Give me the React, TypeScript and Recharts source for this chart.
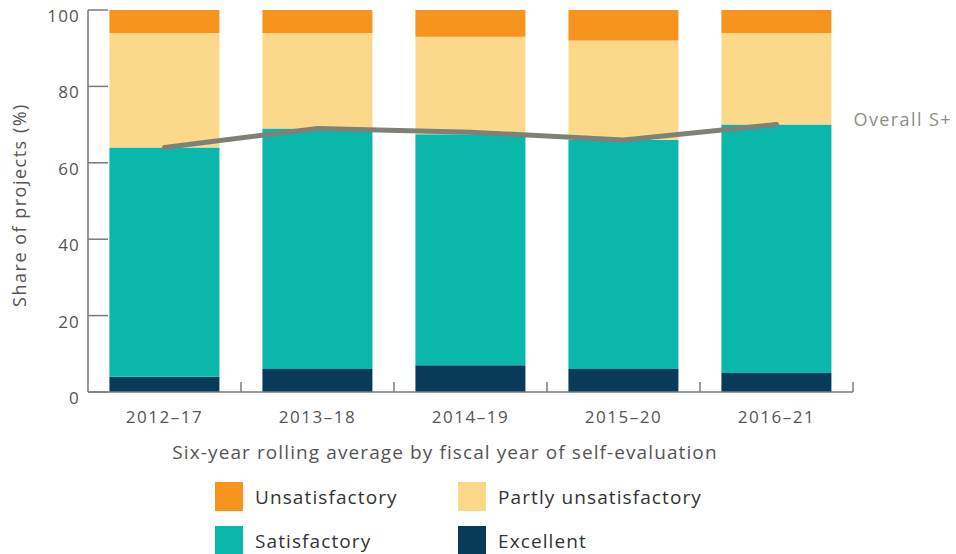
import React from 'react';
import { ComposedChart, Bar, Line, XAxis, YAxis, Legend, Label } from 'recharts';

const categories = ['2012–17', '2013–18', '2014–19', '2015–20', '2016–21'];
const excellent = [4, 6, 7, 6, 5];
const satisfactory = [60, 63, 60.5, 60, 65];
const partlyUnsatisfactory = [30, 25, 25.5, 26, 24];
const unsatisfactory = [6, 6, 7, 8, 6];
const overallSPlus = [64, 69, 68, 66, 70];
const yTicks = [0, 20, 40, 60, 80, 100];

const legendItems = [
  { name: 'Unsatisfactory', color: '#F7941D' },
  { name: 'Partly unsatisfactory', color: '#FCD98A' },
  { name: 'Satisfactory', color: '#09B7AB' },
  { name: 'Excellent', color: '#0A3A5A' },
];

const data = categories.map((c, i) => ({
  category: c,
  excellent: excellent[i],
  satisfactory: satisfactory[i],
  partly: partlyUnsatisfactory[i],
  unsat: unsatisfactory[i],
  overall: overallSPlus[i],
}));

const FONT = '"Open Sans", Lato, sans-serif';
const AXIS = '#7a7a7a';

const YTick = (props: any) => {
  const { x, y, payload } = props;
  return (
    <g>
      <line x1={x + 8} x2={x + 28} y1={y} y2={y} stroke={AXIS} strokeWidth={1.5} />
      <text x={x} y={y + 12} textAnchor="end" fill="#555" fontSize={17} fontFamily={FONT} letterSpacing={1.2}>
        {payload.value}
      </text>
    </g>
  );
};

const XTick = (props: any) => {
  const { x, y, payload } = props;
  const off = payload.offset ?? 76.5;
  return (
    <g>
      <line x1={x + off} x2={x + off} y1={y} y2={y - 10} stroke={AXIS} strokeWidth={1.5} />
      <text x={x} y={y + 31} textAnchor="middle" fill="#555" fontSize={17} fontFamily={FONT} letterSpacing={1.5}>
        {payload.value}
      </text>
    </g>
  );
};

const LineEndLabel = (props: any) => {
  const { x, y, index } = props;
  if (index !== categories.length - 1) return null;
  return (
    <text x={x + 77} y={y + 1} fill="#8c8f87" fontSize={18} fontFamily={FONT} letterSpacing={1.4}>
      Overall S+
    </text>
  );
};

const LegendContent = () => (
  <div
    style={{
      display: 'grid',
      gridTemplateColumns: '243px 260px',
      rowGap: 15,
      fontFamily: FONT,
      fontSize: 19,
      letterSpacing: 1.1,
      color: '#333',
    }}
  >
    {legendItems.map((it) => (
      <div key={it.name} style={{ display: 'flex', alignItems: 'center', height: 29 }}>
        <span style={{ display: 'inline-block', width: 28, height: 29, background: it.color, marginRight: 12 }} />
        <span>{it.name}</span>
      </div>
    ))}
  </div>
);

export default function App() {
  return (
    <div style={{ position: 'absolute', left: 0, top: 0, width: 956, height: 554, background: '#fff' }}>
      <ComposedChart
        width={956}
        height={554}
        data={data}
        margin={{ top: 10, right: 103, left: 0, bottom: 92 }}
        barCategoryGap="14%"
      >
        <YAxis
          type="number"
          domain={[0, 100]}
          ticks={yTicks}
          width={88}
          tickSize={0}
          tickMargin={8}
          tick={<YTick />}
          tickLine={false}
          axisLine={{ stroke: AXIS, strokeWidth: 1.5 }}
          interval={0}
        >
          <Label
            content={(p: any) => {
              const vb = p.viewBox;
              const cx = 21;
              const cy = vb.y + vb.height / 2 + 4;
              return (
                <text
                  x={cx}
                  y={cy}
                  transform={`rotate(-90 ${cx} ${cy})`}
                  textAnchor="middle"
                  dominantBaseline="middle"
                  fill="#555"
                  fontSize={18}
                  fontFamily={FONT}
                  letterSpacing={1.5}
                >
                  Share of projects (%)
                </text>
              );
            }}
          />
        </YAxis>
        <XAxis
          dataKey="category"
          height={70}
          tickSize={0}
          tickMargin={0}
          tickLine={false}
          tick={<XTick />}
          axisLine={{ stroke: AXIS, strokeWidth: 1.5 }}
          interval={0}
        >
          <Label
            content={(p: any) => {
              const vb = p.viewBox;
              return (
                <text
                  x={445}
                  y={vb.y + 67}
                  textAnchor="middle"
                  fill="#555"
                  fontSize={19}
                  fontFamily={FONT}
                  letterSpacing={1.1}
                >
                  Six-year rolling average by fiscal year of self-evaluation
                </text>
              );
            }}
          />
        </XAxis>
        <Bar dataKey="excellent" stackId="a" fill="#0A3A5A" isAnimationActive={false} />
        <Bar dataKey="satisfactory" stackId="a" fill="#09B7AB" isAnimationActive={false} />
        <Bar dataKey="partly" stackId="a" fill="#FCD98A" isAnimationActive={false} />
        <Bar dataKey="unsat" stackId="a" fill="#F7941D" isAnimationActive={false} />
        <Line
          dataKey="overall"
          type="linear"
          stroke="#7e8178"
          strokeWidth={5}
          strokeLinecap="round"
          dot={false}
          activeDot={false}
          isAnimationActive={false}
          label={<LineEndLabel />}
        />
        <Legend
          layout="horizontal"
          verticalAlign="middle"
          align="center"
          content={<LegendContent />}
          wrapperStyle={{ position: 'absolute', left: 215, top: 482, width: 560, height: 72 }}
        />
      </ComposedChart>
    </div>
  );
}
